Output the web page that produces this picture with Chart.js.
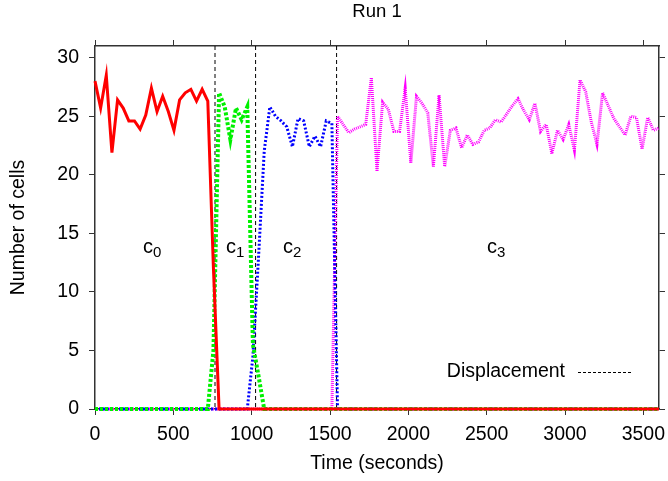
<!DOCTYPE html>
<html>
<head>
<meta charset="utf-8">
<script src="https://cdn.jsdelivr.net/npm/chart.js@4"></script>
<style>
  html, body { margin: 0; padding: 0; background: #fff; }
</style>
</head>
<body>
<canvas id="run1" width="668" height="481"></canvas>
<script>
// sample times (seconds)
const times = [
  0, 36, 72, 108, 144, 180, 216, 252, 288, 324,
  360, 396, 432, 468, 504, 540, 576, 612, 648, 684,
  720, 756, 792, 828, 864, 900, 936, 972, 1008, 1044,
  1080, 1116, 1152, 1188, 1224, 1260, 1296, 1332, 1368, 1404,
  1440, 1476, 1512, 1548, 1584, 1620, 1656, 1692, 1728, 1764,
  1800, 1836, 1872, 1908, 1944, 1980, 2016, 2052, 2088, 2124,
  2160, 2196, 2232, 2268, 2304, 2340, 2376, 2412, 2448, 2484,
  2520, 2556, 2592, 2628, 2664, 2700, 2736, 2772, 2808, 2844,
  2880, 2916, 2952, 2988, 3024, 3060, 3096, 3132, 3168, 3204,
  3240, 3276, 3312, 3348, 3384, 3420, 3456, 3492, 3528, 3564,
  3600
];

const cells0 = [
  28.0, 25.7, 28.5, 21.9, 26.4, 25.7, 24.6, 24.6, 23.9, 25.1,
  27.4, 25.4, 26.7, 25.4, 23.8, 26.4, 27.0, 27.3, 26.3, 27.3,
  26.3, 12,
  0, 0, 0, 0, 0, 0, 0, 0, 0, 0,
  0, 0, 0, 0, 0, 0, 0, 0, 0, 0,
  0, 0, 0, 0, 0, 0, 0, 0, 0, 0,
  0, 0, 0, 0, 0, 0, 0, 0, 0, 0,
  0, 0, 0, 0, 0, 0, 0, 0, 0, 0,
  0, 0, 0, 0, 0, 0, 0, 0, 0, 0,
  0, 0, 0, 0, 0, 0, 0, 0, 0, 0,
  0, 0, 0, 0, 0, 0, 0, 0, 0
];

const cells1 = [
  0, 0, 0, 0, 0, 0, 0, 0, 0, 0,
  0, 0, 0, 0, 0, 0, 0, 0, 0, 0,
  0,
  5, 27.0, 25.8, 23.0, 25.7, 24.7, 25.8, 5.5, 2.8,
  0, 0, 0, 0, 0, 0, 0, 0, 0, 0,
  0, 0, 0, 0, 0, 0, 0, 0, 0, 0,
  0, 0, 0, 0, 0, 0, 0, 0, 0, 0,
  0, 0, 0, 0, 0, 0, 0, 0, 0, 0,
  0, 0, 0, 0, 0, 0, 0, 0, 0, 0,
  0, 0, 0, 0, 0, 0, 0, 0, 0, 0,
  0, 0, 0, 0, 0, 0, 0, 0, 0, 0,
  0
];

const cells2 = [
  0, 0, 0, 0, 0, 0, 0, 0, 0, 0,
  0, 0, 0, 0, 0, 0, 0, 0, 0, 0,
  0, 0, 0, 0, 0, 0, 0, 0,
  4.5, 13, 22, 25.8, 25.0, 24.6, 24.1, 22.4, 24.8, 24.6,
  22.4, 23.3, 22.4, 24.6, 24.4,
  0, 0, 0, 0, 0, 0, 0, 0, 0, 0,
  0, 0, 0, 0, 0, 0, 0, 0, 0, 0,
  0, 0, 0, 0, 0, 0, 0, 0, 0, 0,
  0, 0, 0, 0, 0, 0, 0, 0, 0, 0,
  0, 0, 0, 0, 0, 0, 0, 0, 0, 0,
  0, 0, 0, 0, 0, 0, 0, 0
];

const cells3 = [
  0, 0, 0, 0, 0, 0, 0, 0, 0, 0,
  0, 0, 0, 0, 0, 0, 0, 0, 0, 0,
  0, 0, 0, 0, 0, 0, 0, 0, 0, 0,
  0, 0, 0, 0, 0, 0, 0, 0, 0, 0,
  0, 0, 0,
  25.0, 24.3, 23.6, 23.9, 24.1, 24.3, 28.3, 20.3, 26.2, 25.6,
  23.7, 23.7, 27.4, 21.0, 26.7, 26.1, 25.3, 20.7, 26.8, 20.7,
  23.8, 24.0, 22.3, 23.4, 22.6, 22.8, 23.8, 24.0, 24.7, 24.5,
  25.2, 25.9, 26.5, 25.5, 24.7, 26.1, 23.7, 24.3, 21.8, 23.8,
  23.0, 24.3, 22.1, 28.1, 27.1, 24.5, 22.6, 27.0, 25.9, 24.8,
  24.1, 23.4, 25.0, 24.9, 22.2, 24.9, 23.8, 24.0
];

const xTicks = [0, 500, 1000, 1500, 2000, 2500, 3000, 3500];
const yTicks = [0, 5, 10, 15, 20, 25, 30];

// displacement moments and region labels
const displacements = [766, 1025, 1542];
const regionNames = ['0', '1', '2', '3'];
const regionTimes = [306, 836, 1200, 2502];
const regionLevel = 13.3;

const FONT = '"Liberation Sans", Arial, Helvetica, sans-serif';
Chart.defaults.font.family = FONT;
Chart.defaults.font.size = 19.5;
Chart.defaults.color = '#000';

const frame = '#333';

const overlay = {
  id: 'overlay',
  beforeDatasetsDraw(chart) {
    const {ctx, chartArea: a, scales: {x}} = chart;
    ctx.save();
    ctx.strokeStyle = '#000';
    ctx.lineWidth = 1;
    ctx.setLineDash([4, 3]);
    displacements.forEach(t => {
      const px = x.getPixelForValue(t);
      ctx.beginPath();
      ctx.moveTo(px, a.top);
      ctx.lineTo(px, a.bottom);
      ctx.stroke();
    });
    ctx.restore();
  },
  afterDatasetsDraw(chart) {
    const {ctx, chartArea: a, scales: {x, y}} = chart;
    ctx.save();
    ctx.fillStyle = '#000';
    ctx.textBaseline = 'alphabetic';
    ctx.textAlign = 'left';
    const py = y.getPixelForValue(regionLevel);
    regionNames.forEach((n, i) => {
      const px = x.getPixelForValue(regionTimes[i]);
      ctx.font = '20px ' + FONT;
      ctx.fillText('c', px, py);
      const w = ctx.measureText('c').width;
      ctx.font = '15px ' + FONT;
      ctx.fillText(n, px + w, py + 4);
    });

    // key
    ctx.font = '19.5px ' + FONT;
    ctx.textAlign = 'right';
    ctx.textBaseline = 'middle';
    const ky = a.bottom - 37;
    ctx.fillText('Displacement', a.right - 94, ky);
    ctx.strokeStyle = '#000';
    ctx.lineWidth = 1;
    ctx.setLineDash([3, 2]);
    ctx.beginPath();
    ctx.moveTo(a.right - 81, ky + 0.5);
    ctx.lineTo(a.right - 27, ky + 0.5);
    ctx.stroke();

    // title, centred over the plot
    ctx.font = '18.5px ' + FONT;
    ctx.textAlign = 'center';
    ctx.fillText('Run 1', (a.left + a.right) / 2, 12);
    ctx.restore();
  }
};

function series(label, data, color, width, dash) {
  return {
    label: label,
    data: data,
    borderColor: color,
    backgroundColor: color,
    borderWidth: width,
    borderDash: dash,
    pointRadius: 0,
    tension: 0,
    clip: false,
    xAxisID: 'x',
    yAxisID: 'y'
  };
}

const axisGrid = { drawOnChartArea: false, tickLength: 6, color: frame, lineWidth: 1 };
const axisBorder = { color: frame, width: 1.5 };
const setTicks = list => s => { s.ticks = list.map(v => ({ value: v })); };
const fixHeight = h => s => { s.height = h; s.paddingLeft = 0; s.paddingRight = 0; };

new Chart(document.getElementById('run1'), {
  type: 'line',
  data: {
    labels: times,
    datasets: [
      series('c0', cells0, '#ff0000', 3, []),
      series('c1', cells1, '#00f000', 4, [3, 2]),
      series('c2', cells2, '#0000ff', 3, [2, 2]),
      series('c3', cells3, '#ff00ff', 3, [1, 1])
    ]
  },
  options: {
    responsive: false,
    animation: false,
    layout: { padding: { top: 27.6, left: 0, right: 0, bottom: 0 } },
    plugins: {
      legend: { display: false },
      tooltip: { enabled: false },
      title: { display: false }
    },
    scales: {
      x: {
        type: 'linear',
        position: 'bottom',
        min: 0,
        max: 3600,
        afterBuildTicks: setTicks(xTicks),
        ticks: { padding: 8, maxRotation: 0, autoSkip: false, callback: v => String(v) },
        grid: axisGrid,
        border: axisBorder,
        title: { display: true, text: 'Time (seconds)', padding: { top: 0, bottom: 6 } },
        afterFit: fixHeight(72)
      },
      x2: {
        type: 'linear',
        position: 'top',
        min: 0,
        max: 3600,
        afterBuildTicks: setTicks(xTicks),
        ticks: { display: false },
        grid: axisGrid,
        border: axisBorder,
        afterFit: fixHeight(18.4)
      },
      y: {
        min: 0,
        max: 31,
        afterBuildTicks: setTicks(yTicks),
        ticks: { padding: 10, autoSkip: false, callback: v => String(v) },
        grid: axisGrid,
        border: axisBorder,
        title: { display: true, text: 'Number of cells', padding: { top: 7, bottom: 0 } },
        afterFit: s => { s.width = 95; s.paddingTop = 0; s.paddingBottom = 0; }
      },
      y2: {
        position: 'right',
        min: 0,
        max: 31,
        afterBuildTicks: setTicks(yTicks),
        ticks: { display: false },
        grid: axisGrid,
        border: axisBorder,
        afterFit: s => { s.width = 9; s.paddingTop = 0; s.paddingBottom = 0; }
      }
    }
  },
  plugins: [overlay]
});
</script>
</body>
</html>
